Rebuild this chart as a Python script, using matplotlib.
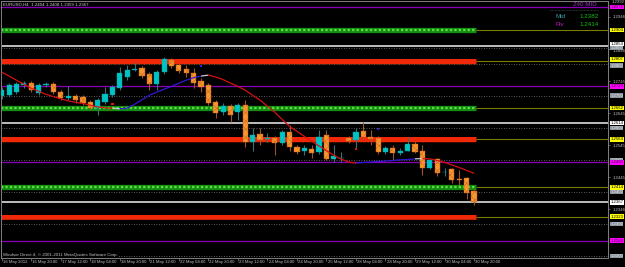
import numpy as np
import matplotlib
matplotlib.use("Agg")
import matplotlib.pyplot as plt
from matplotlib.collections import LineCollection
from matplotlib.transforms import blended_transform_factory

# EURUSD H4 bars, 16 May 2012 04:00 .. 30 May 2012 20:00
opens = [1.2698, 1.2701, 1.2711, 1.2732, 1.2739, 1.2708, 1.2732, 1.2736, 1.2711, 1.2692,
         1.2698, 1.2695, 1.2679, 1.2661, 1.2679, 1.2701, 1.2723, 1.2758, 1.2781, 1.2786,
         1.2767, 1.2736, 1.2773, 1.2811, 1.2795, 1.2782, 1.2770, 1.2745, 1.2732, 1.2679,
         1.2648, 1.2667, 1.2648, 1.2670, 1.2554, 1.2580, 1.2565, 1.2567, 1.2551, 1.2586,
         1.2539, 1.2526, 1.2533, 1.2523, 1.2576, 1.2504, 1.2506, 1.2567, 1.2561, 1.2589,
         1.2570, 1.2567, 1.2523, 1.2536, 1.2520, 1.2529, 1.2548, 1.2529, 1.2476, 1.2501,
         1.2461, 1.2470, 1.2439, 1.2442, 1.2404]
highs = [1.2726, 1.2739, 1.2742, 1.2745, 1.2745, 1.2739, 1.2742, 1.2742, 1.2717, 1.2729,
         1.2704, 1.2701, 1.2686, 1.2692, 1.2726, 1.2732, 1.2789, 1.2795, 1.2804, 1.2792,
         1.2773, 1.2779, 1.2820, 1.2817, 1.2801, 1.2795, 1.2786, 1.2754, 1.2739, 1.2686,
         1.2676, 1.2673, 1.2676, 1.2686, 1.2598, 1.2598, 1.2583, 1.2573, 1.2592, 1.2607,
         1.2545, 1.2545, 1.2545, 1.2592, 1.2592, 1.2545, 1.2523, 1.2573, 1.2598, 1.2617,
         1.2592, 1.2573, 1.2542, 1.2545, 1.2536, 1.2570, 1.2558, 1.2545, 1.2504, 1.2507,
         1.2473, 1.2476, 1.2467, 1.2448, 1.2408]
lows = [1.2689, 1.2695, 1.2704, 1.2723, 1.2711, 1.2701, 1.2726, 1.2704, 1.2686, 1.2686,
        1.2676, 1.2670, 1.2654, 1.2639, 1.2673, 1.2695, 1.2717, 1.2748, 1.2776, 1.2754,
        1.2717, 1.2717, 1.2767, 1.2786, 1.2770, 1.2758, 1.2723, 1.2711, 1.2670, 1.2629,
        1.2639, 1.2617, 1.2623, 1.2539, 1.2529, 1.2545, 1.2554, 1.2514, 1.2545, 1.2529,
        1.2517, 1.2514, 1.2507, 1.2517, 1.2498, 1.2492, 1.2492, 1.2551, 1.2533, 1.2564,
        1.2545, 1.2517, 1.2517, 1.2498, 1.2514, 1.2526, 1.2520, 1.2454, 1.2470, 1.2451,
        1.2451, 1.2429, 1.2420, 1.2379, 1.2359]
closes = [1.2717, 1.2732, 1.2736, 1.2739, 1.2717, 1.2732, 1.2736, 1.2711, 1.2692, 1.2698,
          1.2686, 1.2676, 1.2661, 1.2686, 1.2704, 1.2726, 1.2770, 1.2779, 1.2782, 1.2761,
          1.2736, 1.2773, 1.2814, 1.2792, 1.2776, 1.2770, 1.2739, 1.2726, 1.2676, 1.2645,
          1.2667, 1.2639, 1.2670, 1.2554, 1.2576, 1.2561, 1.2567, 1.2551, 1.2586, 1.2539,
          1.2523, 1.2536, 1.2520, 1.2570, 1.2504, 1.2511, 1.2507, 1.2558, 1.2586, 1.2570,
          1.2564, 1.2523, 1.2536, 1.2520, 1.2529, 1.2548, 1.2523, 1.2476, 1.2498, 1.2458,
          1.2462, 1.2436, 1.2438, 1.2398, 1.2367]

# colour-changing moving average
ma = [1.2773, 1.2761, 1.2748, 1.2736, 1.2723, 1.2714, 1.2704, 1.2697, 1.2690, 1.2684,
      1.2679, 1.2676, 1.2670, 1.2665, 1.2662, 1.2661, 1.2659, 1.2661, 1.2673, 1.2687,
      1.2701, 1.2711, 1.2720, 1.2729, 1.2739, 1.2748, 1.2756, 1.2761, 1.2764, 1.2758,
      1.2750, 1.2739, 1.2729, 1.2717, 1.2701, 1.2686, 1.2667, 1.2648, 1.2626, 1.2604,
      1.2589, 1.2573, 1.2558, 1.2543, 1.2529, 1.2514, 1.2502, 1.2493, 1.2490, 1.2492,
      1.2493, 1.2495, 1.2496, 1.2498, 1.2500, 1.2501, 1.2503, 1.2504, 1.2503, 1.2498,
      1.2492, 1.2484, 1.2476, 1.2467, 1.2458]
ma_turns = [15, 27, 56]

# signal dots (bar, price, colour)
sig_bar = [15, 27, 48, 51]
sig_price = [1.2673, 1.2792, 1.2533, 1.2595]
sig_color = ['#E01010', '#3020E0', '#E01010', '#3020E0']

time_labels = ['16 May 2012', '16 May 20:00', '17 May 12:00', '18 May 04:00', '18 May 20:00',
               '21 May 12:00', '22 May 04:00', '22 May 20:00', '23 May 12:00', '24 May 04:00',
               '24 May 20:00', '25 May 12:00', '28 May 04:00', '28 May 20:00', '29 May 12:00',
               '30 May 04:00', '30 May 20:00']
time_label_bars = [0, 4, 8, 12, 16, 20, 24, 28, 32, 36, 40, 44, 48, 52, 56, 60, 64]

purple_levels = [1.2976, 1.2729, 1.2492, 1.2248]
green_levels = [1.2904, 1.2662, 1.2414]
red_levels = [1.2807, 1.2564, 1.2323]
white_levels = [1.2854, 1.2614, 1.2367]
round_levels = [1.2850, 1.2800, 1.2700, 1.2600, 1.2500, 1.2400, 1.2300, 1.2200]
price_ticks = [1.2946, 1.2846, 1.2745, 1.2645, 1.2545, 1.2445, 1.2346]

BG = 'black'
AXC = '#808080'
FS = 3.1
plt.rcParams['font.family'] = ['Liberation Sans', 'DejaVu Sans']
plt.rcParams['hatch.linewidth'] = 0.35

fig = plt.figure(figsize=(6.25, 2.67), dpi=100, facecolor=BG)
ax = fig.add_axes([1 / 625, 9 / 267, 607 / 625, 257 / 267], facecolor=BG)
xmin, xmax = -0.1, 82.15
ax.set_xlim(xmin, xmax)
ax.set_ylim(1.2194, 1.2995)
band_end = 64.3

# horizontal levels
for y in round_levels:
    ax.hlines(y, xmin, xmax, color='#7a7a7a', lw=0.6, linestyles=(0, (1, 2)), zorder=1)
for y in purple_levels:
    ax.hlines(y, xmin, xmax, color='#8A00B8', lw=0.9, zorder=2)
for y in white_levels:
    ax.hlines(y, xmin, xmax, color='#F0F0F0', lw=1.1, zorder=2)
for y in green_levels:
    ax.hlines(y, xmin, band_end, color='#148C14', lw=3.8, zorder=2)
    ax.hlines(y, xmin, band_end, color='#5EE040', lw=1.6, linestyles=(0, (1, 1)), zorder=2)
    ax.hlines(y, band_end, xmax, color='#7C7C00', lw=0.8, zorder=2)
for y in red_levels:
    ax.hlines(y, xmin, band_end, color='#F02808', lw=3.6, zorder=2)
    ax.hlines(y - 0.0008, xmin, band_end, color='#802000', lw=0.6, linestyles=(0, (1, 1)), zorder=2)
    ax.hlines(y, band_end, xmax, color='#7C7C00', lw=0.8, zorder=2)

# candles
x = np.arange(len(opens))
o, h, l, c = (np.array(v) for v in (opens, highs, lows, closes))
up = c >= o
dn = ~up
ax.vlines(x[up], l[up], h[up], color='#3F6F70', lw=0.8, zorder=3)
ax.vlines(x[dn], l[dn], h[dn], color='#A0522D', lw=0.8, zorder=3)
ax.bar(x[up], np.maximum(c[up] - o[up], 0.00006), bottom=o[up], width=0.7,
       color='#00C4C4', edgecolor='#00A0A0', lw=0.3, zorder=4)
ax.bar(x[dn], np.maximum(o[dn] - c[dn], 0.00006), bottom=c[dn], width=0.7,
       color='#F7962E', edgecolor='#C8641E', hatch='xxxx', lw=0.3, zorder=4)

# moving average, red when falling, blue when rising
m = np.array(ma)
pts = np.column_stack([x, m])
segs = np.stack([pts[:-1], pts[1:]], axis=1)
cols = ['#3418D8' if m[i + 1] > m[i] else '#D81010' for i in range(len(m) - 1)]
for t in ma_turns:
    cols[t] = '#C8C8C8'
ax.add_collection(LineCollection(segs, colors=cols, linewidths=0.9, zorder=5))
ax.scatter(sig_bar, sig_price, s=2.5, marker='s', c=sig_color, lw=0, zorder=6)

# axes frame and ticks
for side in ('top', 'bottom', 'left', 'right'):
    ax.spines[side].set_color(AXC)
    ax.spines[side].set_linewidth(0.7)
ax.yaxis.tick_right()
ax.set_yticks(price_ticks)
ax.set_yticklabels(['%.4f' % v for v in price_ticks])
ax.tick_params(axis='y', colors=AXC, labelcolor='#C0C0C0', labelsize=FS, length=1.5,
               width=0.5, pad=1.5)
# the 1.2846 label sits under two boxes, push it down a little
ax.get_yticklabels()[1].set_va('top')
ax.set_xticks(time_label_bars)
ax.set_xticklabels([])
ax.tick_params(axis='x', colors=AXC, length=2, width=0.5)

bx = blended_transform_factory(ax.transData, ax.transAxes)
for b, t in zip(time_label_bars, time_labels):
    ax.text(b + 0.15, -0.008, t, transform=bx, ha='left', va='top', fontsize=FS,
            color='#C0C0C0', clip_on=False)

# price boxes on the axis
by = blended_transform_factory(ax.transAxes, ax.transData)
def price_box(y, fc, tc='black', va='center'):
    ax.text(1.004, y, '%.4f' % y, transform=by, ha='left', va=va, fontsize=FS,
            color=tc, clip_on=False, zorder=10,
            bbox=dict(boxstyle='square,pad=0.05', fc=fc, ec='none'))

for y in round_levels:
    price_box(y, '#8C96A0', '#E0E0E0', 'top' if y == 1.2800 else 'center')
for y in purple_levels:
    price_box(y, '#FF00FF', '#400040')
for y in green_levels + red_levels:
    price_box(y, '#FFFF00', 'black', 'bottom' if y == 1.2807 else 'center')
for y in white_levels:
    price_box(y, '#FFFFFF', 'black', 'bottom' if y == 1.2854 else 'center')
ax.text(1.006, 1.2992, '1.2992', transform=by, ha='left', va='center', fontsize=FS,
        color='#C0C0C0', clip_on=False)

# texts
ax.text(0.004, 0.985, 'EURUSD,H4  1.2404 1.2408 1.2359 1.2367', transform=ax.transAxes,
        ha='left', va='center', fontsize=3.2, color='#C8C8C8')
ax.text(0.004, 0.012, 'Windsor Direct 4, \u00a9 2001-2011 MetaQuotes Software Corp.',
        transform=ax.transAxes, ha='left', va='center', fontsize=3.2, color='#C0C0C0',
        zorder=11, bbox=dict(boxstyle='square,pad=0.1', fc=BG, ec='none'))
ax.text(0.982, 0.985, '240 MID', transform=ax.transAxes, ha='right', va='center',
        fontsize=4.5, color='#9A30C0')
ax.plot([0.902, 0.983], [0.965, 0.965], transform=ax.transAxes, color='#505050',
        lw=0.5, ls=(0, (1, 1)))
ax.text(0.914, 0.94, 'Mid', transform=ax.transAxes, ha='left', va='center', fontsize=4.5,
        color='#3A9AA8')
ax.text(0.914, 0.908, 'Piv', transform=ax.transAxes, ha='left', va='center', fontsize=4.5,
        color='#C020C0')
ax.text(0.984, 0.94, '1.2382', transform=ax.transAxes, ha='right', va='center',
        fontsize=4.5, color='#10C010')
ax.text(0.984, 0.908, '1.2414', transform=ax.transAxes, ha='right', va='center',
        fontsize=4.5, color='#10C010')

fig.savefig('out.png', dpi=100, facecolor=BG)
